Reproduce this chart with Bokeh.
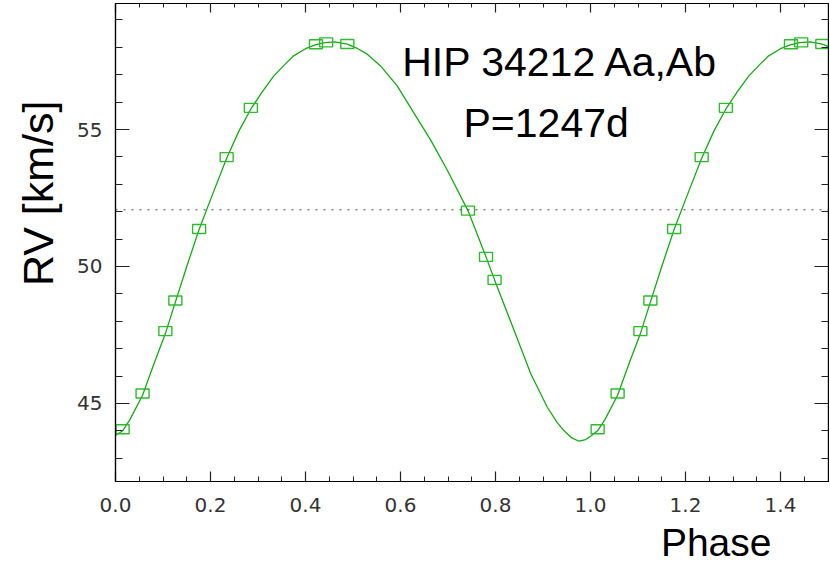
from bokeh.plotting import figure
from bokeh.models import (LinearAxis, SingleIntervalTicker, Range1d, Span, Label, Title,
                          PrintfTickFormatter)
from bokeh.embed import file_html
from bokeh.resources import INLINE

# ---- data ----
obs_phase = [0.015, 0.057, 0.105, 0.126, 0.176, 0.234, 0.285, 0.422, 0.4435, 0.488, 0.742, 0.780, 0.798]
obs_rv = [44.06, 45.36, 47.64, 48.76, 51.37, 53.99, 55.79, 58.11, 58.18, 58.12, 52.04, 50.35, 49.51]

curve_phase = [0.0, 0.015, 0.030, 0.057, 0.080, 0.105, 0.126, 0.150, 0.176, 0.200, 0.234, 0.260,
               0.285, 0.310, 0.333, 0.355, 0.375, 0.400, 0.422, 0.440, 0.462, 0.488, 0.510,
               0.530, 0.558, 0.593, 0.628, 0.663, 0.698, 0.742, 0.780, 0.798, 0.839, 0.874,
               0.909, 0.930, 0.944, 0.960, 0.9755, 0.990, 1.0]
curve_rv = [43.83, 44.0, 44.4, 45.3, 46.4, 47.55, 48.7, 50.0, 51.35, 52.44, 53.95, 54.95,
            55.75, 56.4, 56.95, 57.35, 57.69, 57.95, 58.1, 58.17, 58.2, 58.12, 57.95,
            57.75, 57.32, 56.59, 55.61, 54.63, 53.53, 52.04, 50.35, 49.51, 47.67, 46.09,
            44.86, 44.3, 44.01, 43.75, 43.62, 43.68, 43.8]

gamma_rv = 52.07
title_lines = ["HIP 34212 Aa,Ab", "P=1247d"]
x_label = "Phase"
y_label = "RV [km/s]"

X_MAX = 1.501
Y_MIN, Y_MAX = 42.15, 59.6

# phase-folded copies (+1) shown up to the right edge
pts_x = obs_phase + [p + 1 for p in obs_phase if p + 1 <= X_MAX]
pts_y = obs_rv + [v for p, v in zip(obs_phase, obs_rv) if p + 1 <= X_MAX]
crv_x = curve_phase + [p + 1 for p in curve_phase[1:] if p + 1 <= 1.56]
crv_y = curve_rv + [v for p, v in zip(curve_phase[1:], curve_rv[1:]) if p + 1 <= 1.56]

GREEN_LINE = "#12ab12"
GREEN_BOX = "#2dbb2d"
TICK_FONT = "DejaVu Sans"

p = figure(width=829, height=567, output_backend="svg", toolbar_location=None,
           x_range=Range1d(0, X_MAX), y_range=Range1d(Y_MIN, Y_MAX),
           x_axis_type=None, y_axis_type=None,
           min_border_left=115, min_border_right=1, min_border_top=3, min_border_bottom=86)
p.grid.visible = False
p.outline_line_color = "black"
p.outline_line_width = 1.2
p.background_fill_color = "white"
p.border_fill_color = "white"

xt = SingleIntervalTicker(interval=0.2, num_minor_ticks=4)
yt = SingleIntervalTicker(interval=5, num_minor_ticks=5)

def style(ax, major_in, minor_in, show_labels, standoff=0):
    ax.axis_line_color = "black"
    ax.axis_line_width = 1.2
    ax.major_tick_line_color = "#222"
    ax.minor_tick_line_color = "#222"
    ax.major_tick_line_width = 1.2
    ax.minor_tick_line_width = 1.0
    ax.major_tick_in = major_in
    ax.major_tick_out = 0
    ax.minor_tick_in = minor_in
    ax.minor_tick_out = 0
    if show_labels:
        ax.major_label_text_font = TICK_FONT
        ax.major_label_text_font_size = "20px"
        ax.major_label_text_color = "#333"
        ax.major_label_standoff = standoff
    else:
        ax.major_label_text_font_size = "0px"
        ax.major_label_standoff = 0

bottom = LinearAxis(ticker=xt, formatter=PrintfTickFormatter(format="%.1f"))
style(bottom, 10, 5, True, 16)
top = LinearAxis(ticker=xt)
style(top, 9, 4, False)
left = LinearAxis(ticker=yt, formatter=PrintfTickFormatter(format="%d"))
style(left, 14, 7, True, 13)
right = LinearAxis(ticker=yt)
style(right, 14, 7, False)

p.add_layout(bottom, "below")
p.add_layout(Title(text=x_label, text_font="Liberation Sans", text_font_size="39px",
                   text_font_style="normal", text_color="black", align="right",
                   offset=57, standoff=8), "below")
p.add_layout(top, "above")
p.add_layout(left, "left")
p.add_layout(Title(text=y_label, text_font="Liberation Sans", text_font_size="43px",
                   text_font_style="normal", text_color="black", align="right",
                   vertical_align="top", offset=97, standoff=22), "left")
p.add_layout(right, "right")

p.add_layout(Span(location=gamma_rv, dimension="width", line_color="#444",
                  line_width=1, line_dash="2 6"))

p.line(crv_x, crv_y, line_color=GREEN_LINE, line_width=1.3)
p.rect(x=pts_x, y=pts_y, width=13, height=9, width_units="screen", height_units="screen",
       fill_color=None, line_color=GREEN_BOX, line_width=1.4)

p.add_layout(Label(x=0.6035, y=57.45, text=title_lines[0], text_font="Liberation Sans",
                   text_font_size="41px", text_color="black", text_align="left",
                   text_baseline="alphabetic"))
p.add_layout(Label(x=0.7326, y=55.22, text=title_lines[1], text_font="Liberation Sans",
                   text_font_size="41px", text_color="black", text_align="left",
                   text_baseline="alphabetic"))

open("out.html", "w").write(file_html(p, INLINE))
